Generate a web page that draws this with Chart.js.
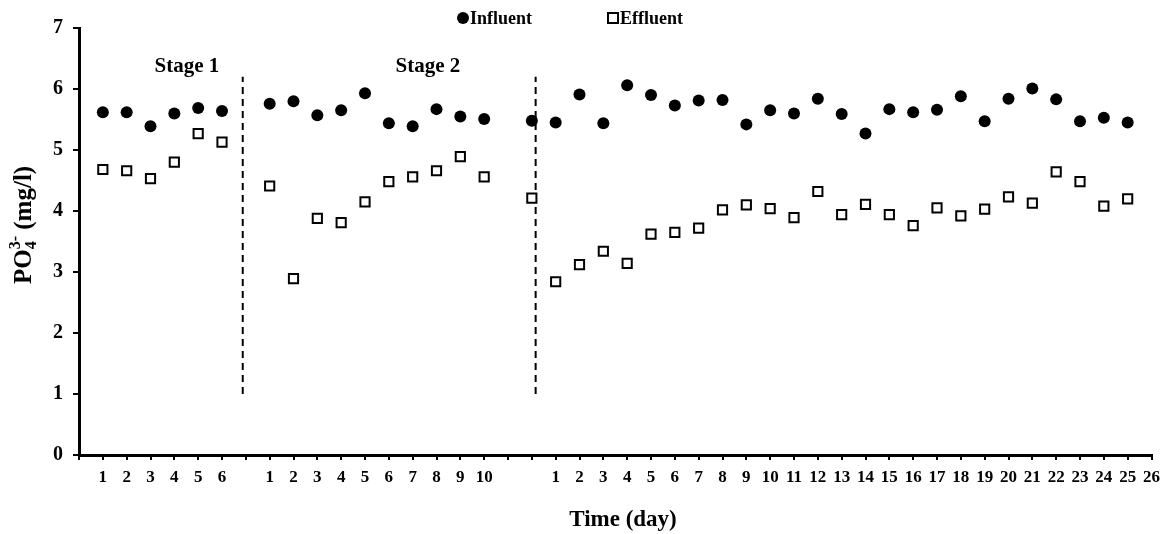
<!DOCTYPE html>
<html>
<head>
<meta charset="utf-8">
<script src="https://cdn.jsdelivr.net/npm/chart.js@4.4.1/dist/chart.umd.min.js"></script>
<style>
html,body{margin:0;padding:0;background:#fff;}
canvas{display:block;}
</style>
</head>
<body>
<canvas id="c" width="1167" height="534"></canvas>
<script>
// x positions 0..45; blank labels separate the stages
const tickLabels = ['',
  '1','2','3','4','5','6',
  '',
  '1','2','3','4','5','6','7','8','9','10',
  '', '',
  '1','2','3','4','5','6','7','8','9','10','11','12','13','14','15','16','17','18','19','20','21','22','23','24','25','26'];

const influent = [null,
  5.62, 5.62, 5.39, 5.60, 5.69, 5.64,
  null,
  5.76, 5.80, 5.57, 5.65, 5.93, 5.44, 5.39, 5.67, 5.55, 5.51,
  null, 5.48,
  5.45, 5.91, 5.44, 6.06, 5.90, 5.73, 5.81, 5.82, 5.42, 5.65, 5.60, 5.84, 5.59, 5.27, 5.67, 5.62, 5.66, 5.88, 5.47, 5.84, 6.01, 5.83, 5.47, 5.53, 5.45,
  null];

const effluent = [null,
  4.68, 4.66, 4.53, 4.80, 5.27, 5.13,
  null,
  4.41, 2.89, 3.88, 3.81, 4.15, 4.48, 4.56, 4.66, 4.89, 4.56,
  null, 4.21,
  2.84, 3.12, 3.34, 3.14, 3.62, 3.65, 3.72, 4.02, 4.10, 4.04, 3.89, 4.32, 3.94, 4.11, 3.94, 3.76, 4.05, 3.92, 4.03, 4.23, 4.13, 4.64, 4.48, 4.08, 4.20,
  null];

const seriesNames = ['Influent', 'Effluent'];
const stageNames = ['Stage 1', 'Stage 2'];
const stageX = [4.53, 14.64];
const stageY = 6.36;
const dividerX = [6.87, 19.16];
const dividerY = [1.0, 6.2];
const xTitle = 'Time (day)';
const yMin = 0, yMax = 7;

const FONT = '"Liberation Serif", "Times New Roman", serif';

function toPoints(arr) {
  const out = [];
  arr.forEach((v, i) => { if (v !== null) out.push({x: i, y: v}); });
  return out;
}

const extras = {
  id: 'extras',
  afterDraw(chart) {
    const ctx = chart.ctx;
    const xs = chart.scales.x, ys = chart.scales.y;
    ctx.save();
    ctx.fillStyle = '#000';
    ctx.strokeStyle = '#000';
    // stage labels
    ctx.font = 'bold 21px ' + FONT;
    ctx.textAlign = 'center';
    ctx.textBaseline = 'middle';
    stageNames.forEach((s, i) => {
      ctx.fillText(s, xs.getPixelForValue(stageX[i]), ys.getPixelForValue(stageY));
    });
    // x-axis title
    ctx.font = 'bold 23px ' + FONT;
    ctx.textBaseline = 'alphabetic';
    ctx.fillText(xTitle, 623, 526);
    // legend
    const ly = 18;
    ctx.font = 'bold 18px ' + FONT;
    ctx.textAlign = 'left';
    ctx.textBaseline = 'middle';
    ctx.beginPath();
    ctx.arc(463, ly, 6, 0, Math.PI * 2);
    ctx.fill();
    ctx.fillText(seriesNames[0], 470, ly + 1);
    ctx.lineWidth = 2;
    ctx.fillStyle = '#fff';
    ctx.fillRect(608, ly - 5, 10, 10);
    ctx.strokeRect(608, ly - 5, 10, 10);
    ctx.fillStyle = '#000';
    ctx.fillText(seriesNames[1], 620, ly + 1);
    // y-axis title with subscript / superscript
    ctx.translate(31, 284);
    ctx.rotate(-Math.PI / 2);
    ctx.textBaseline = 'alphabetic';
    let x = 0;
    ctx.font = 'bold 25px ' + FONT;
    ctx.fillText('PO', x, 0);
    x += ctx.measureText('PO').width;
    ctx.font = 'bold 16px ' + FONT;
    ctx.fillText('4', x, 5);
    const w4 = ctx.measureText('4').width;
    ctx.fillText('3-', x, -11);
    const w3 = ctx.measureText('3-').width;
    x += Math.max(w4, w3);
    ctx.font = 'bold 25px ' + FONT;
    ctx.fillText(' (mg/l)', x, 0);
    ctx.restore();
  }
};

new Chart(document.getElementById('c'), {
  type: 'scatter',
  data: {
    datasets: [
      {
        label: seriesNames[0],
        data: toPoints(influent),
        pointStyle: 'circle',
        pointRadius: 6,
        pointBackgroundColor: '#000',
        pointBorderColor: '#000',
        pointBorderWidth: 0,
        showLine: false
      },
      {
        label: seriesNames[1],
        data: toPoints(effluent),
        pointStyle: 'rect',
        pointRadius: 6.5,
        pointBackgroundColor: '#fff',
        pointBorderColor: '#000',
        pointBorderWidth: 2,
        showLine: false
      },
      {
        label: 'divider1',
        data: dividerY.map(y => ({x: dividerX[0], y})),
        showLine: true,
        borderColor: '#000',
        borderWidth: 2,
        borderDash: [7, 5],
        pointRadius: 0
      },
      {
        label: 'divider2',
        data: dividerY.map(y => ({x: dividerX[1], y})),
        showLine: true,
        borderColor: '#000',
        borderWidth: 2,
        borderDash: [7, 5],
        pointRadius: 0
      }
    ]
  },
  options: {
    responsive: false,
    animation: false,
    events: [],
    layout: { padding: { top: 28, right: 15, left: 0, bottom: 0 } },
    plugins: {
      legend: { display: false },
      tooltip: { enabled: false },
      title: { display: false }
    },
    scales: {
      x: {
        type: 'linear',
        min: 0,
        max: tickLabels.length - 1,
        afterFit: (s) => { s.height = 79; },
        ticks: {
          stepSize: 1,
          autoSkip: false,
          maxRotation: 0,
          minRotation: 0,
          padding: 7,
          color: '#000',
          font: { family: FONT, size: 17, weight: 'bold' },
          callback: (v) => tickLabels[v] !== undefined ? tickLabels[v] : ''
        },
        grid: { drawOnChartArea: false, drawTicks: true, tickLength: 5, lineWidth: 2, color: '#000' },
        border: { display: true, width: 3, color: '#000' },
        title: { display: false }
      },
      y: {
        min: yMin,
        max: yMax,
        afterFit: (s) => { s.width = 79; },
        ticks: {
          stepSize: 1,
          padding: 10,
          color: '#000',
          font: { family: FONT, size: 20, weight: 'bold' }
        },
        grid: { drawOnChartArea: false, drawTicks: true, tickLength: 6, lineWidth: 2, color: '#000' },
        border: { display: true, width: 3, color: '#000' }
      }
    }
  },
  plugins: [extras]
});
</script>
</body>
</html>
